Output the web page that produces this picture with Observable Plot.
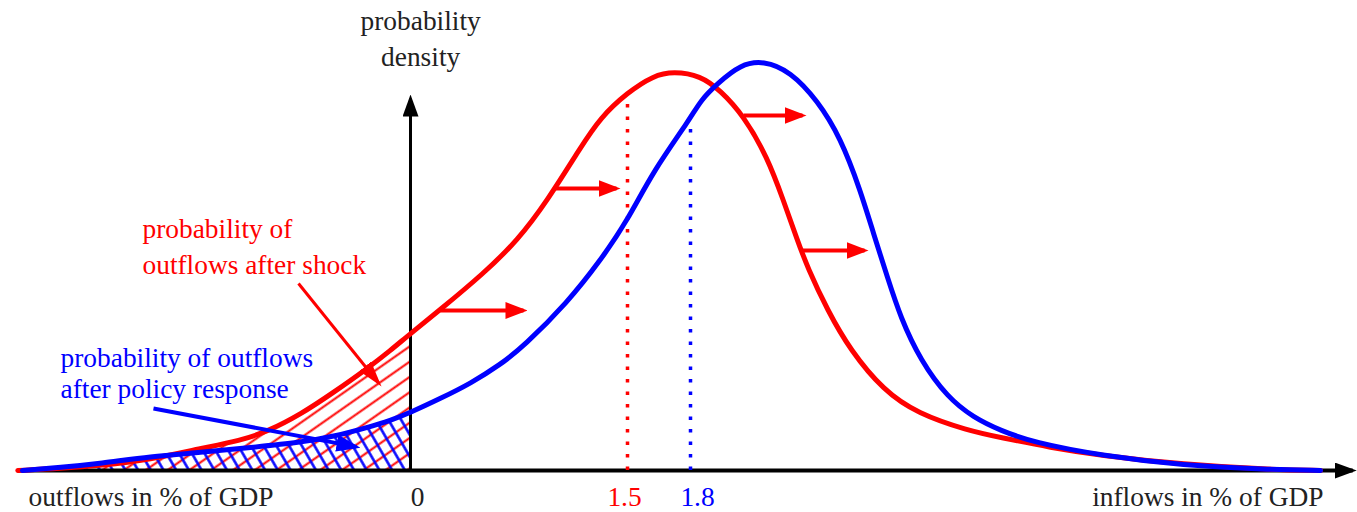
<!DOCTYPE html>
<html><head><meta charset="utf-8">
<script src="https://cdn.jsdelivr.net/npm/d3@7"></script>
<script src="https://cdn.jsdelivr.net/npm/@observablehq/plot@0.6"></script>
<style>body{margin:0;background:#fff} svg{display:block}</style>
</head><body><div id="chart"></div>
<script>
// Red: distribution after shock (schematic x units, density units)
const redX = [-2.7, -2.406, -2.131, -1.788, -1.444, -1.169, -0.983, -0.756, -0.529, -0.296, -0.1375, 0,
  0.207, 0.505, 0.74, 0.947, 1.175, 1.313, 1.5, 1.624, 1.719, 1.871, 2.014, 2.179, 2.35, 2.464, 2.564, 2.636,
  2.779, 2.943, 3.179, 3.421, 3.779, 4.014, 4.371, 4.729, 5.321, 5.921, 6.3];
const redDensity = [0, 0.005, 0.0125, 0.0275, 0.055, 0.075, 0.0975, 0.14, 0.195, 0.255, 0.3, 0.3425,
  0.4025, 0.4925, 0.575, 0.675, 0.8075, 0.8825, 0.945, 0.9875, 0.9975, 0.9875, 0.95, 0.8875, 0.7825, 0.675, 0.575, 0.5075,
  0.4, 0.3, 0.2, 0.1425, 0.1, 0.0825, 0.0575, 0.0375, 0.015, 0.0025, 0];
// Blue: distribution after policy response
const blueX = [-2.668, -2.406, -2.131, -1.788, -1.444, -1.1, -0.756, -0.529, -0.296, -0.1375, 0,
  0.207, 0.415, 0.622, 0.781, 1.085, 1.313, 1.5, 1.624, 1.8, 1.871, 1.993, 2.157, 2.321, 2.514, 2.707, 2.871,
  3.014, 3.107, 3.207, 3.3, 3.443, 3.636, 3.821, 4.014, 4.25, 4.729, 5.321, 5.921, 6.3];
const blueDensity = [0, 0.0075, 0.0175, 0.035, 0.045, 0.0575, 0.07, 0.085, 0.1075, 0.125, 0.145,
  0.18, 0.2175, 0.265, 0.31, 0.42, 0.525, 0.625, 0.75, 0.88, 0.925, 0.9675, 1.015, 1.025, 0.9975, 0.925, 0.8325,
  0.7, 0.5925, 0.4825, 0.3825, 0.275, 0.1825, 0.1325, 0.1, 0.07, 0.0375, 0.0125, 0.0025, 0];

const meanValues = [1.5, 1.8];
const meanTops = [0.925, 0.8575];
const tickValues = [0, 1.5, 1.8];
const tickLabels = ["0", "1.5", "1.8"];
const shiftFromX = [0.207, 1.002, 2.179, 2.586];
const shiftToX = [0.781, 1.424, 2.6, 3.043];
const shiftY = [0.4, 0.705, 0.8875, 0.55];
const axisTitles = ["outflows in % of GDP", "inflows in % of GDP"];
const yTitle = "probability\ndensity";
const shockLabel = "probability of\noutflows after shock";
const policyLabel = "probability of outflows\nafter policy response";

const red = d3.range(redX.length).map(i => ({x: redX[i], y: redDensity[i]}));
const blue = d3.range(blueX.length).map(i => ({x: blueX[i], y: blueDensity[i]}));
const shifts = shiftY.map((y, i) => ({x1: shiftFromX[i], x2: shiftToX[i], y}));
const ticks = tickValues.map((v, i) => ({x: v, label: tickLabels[i]}));
const means = meanValues.map((v, i) => ({x: v, top: meanTops[i]}));

const FONT = "Liberation Serif, Times New Roman, serif";
const FS = 27.4;
const CURVE = "basis";

const svg = Plot.plot({
  width: 1357, height: 512, margin: 0,
  x: {type: "linear", domain: [-2.75, 0, 1.5, 1.8, 6.564], range: [10, 410, 627, 690, 1357], axis: null},
  y: {domain: [0, 1.1], range: [470, 30], axis: null},
  marks: [
    Plot.areaY(red.filter(d => d.x <= 0), {x: "x", y: "y", curve: CURVE, fill: "url(#hatchRed)"}),
    Plot.areaY(blue.filter(d => d.x <= 0), {x: "x", y: "y", curve: CURVE, fill: "url(#hatchBlue)", stroke: "blue", strokeWidth: 2, strokeLinejoin: "round"}),
    // axes (links 0 and 1)
    Plot.link([{x1: -2.7, x2: 6.53, y: 0}], {x1: "x1", x2: "x2", y1: "y", y2: "y", stroke: "black", strokeWidth: 4}),
    Plot.link([{x: 0, y1: 0, y2: 0.93}], {x1: "x", x2: "x", y1: "y1", y2: "y2", stroke: "black", strokeWidth: 3}),
    // mean lines
    Plot.ruleX(means, {x: "x", y1: 0, y2: "top", stroke: (d, i) => i === 0 ? "red" : "blue", strokeWidth: 3.5, strokeDasharray: "3.5,9"}),
    // curves
    Plot.line(red, {x: "x", y: "y", curve: CURVE, stroke: "red", strokeWidth: 5}),
    Plot.line(blue, {x: "x", y: "y", curve: CURVE, stroke: "blue", strokeWidth: 5}),
    // shift arrows (link 2), pointers (links 3, 4)
    Plot.link(shifts, {x1: "x1", x2: "x2", y1: "y", y2: "y", stroke: "red", strokeWidth: 4}),
    Plot.link([{x1: -0.77, y1: 0.4675, x2: -0.2166, y2: 0.2175}], {x1: "x1", x2: "x2", y1: "y1", y2: "y2", stroke: "red", strokeWidth: 3}),
    Plot.link([{x1: -1.767, y1: 0.155, x2: -0.371, y2: 0.059}], {x1: "x1", x2: "x2", y1: "y1", y2: "y2", stroke: "blue", strokeWidth: 4}),
    // texts
    Plot.text([yTitle], {x: 0.07, y: 1.0125, text: d => d, fontFamily: FONT, fontSize: FS, lineHeight: 1.31, lineAnchor: "bottom", textAnchor: "middle", fill: "#222"}),
    Plot.text([shockLabel], {x: -1.8425, y: 0.4925, text: d => d, fontFamily: FONT, fontSize: FS, lineHeight: 1.28, lineAnchor: "bottom", textAnchor: "start", fill: "red"}),
    Plot.text([policyLabel], {x: -2.406, y: 0.1825, text: d => d, fontFamily: FONT, fontSize: FS, lineHeight: 1.1, lineAnchor: "bottom", textAnchor: "start", fill: "blue"}),
    Plot.text(ticks, {x: "x", y: -0.0875, text: "label", fontFamily: FONT, fontSize: FS, lineAnchor: "bottom", textAnchor: "middle",
      fill: d => d.label === "1.5" ? "red" : d.label === "1.8" ? "blue" : "#222"}),
    Plot.text([axisTitles[0]], {x: -2.626, y: -0.0875, text: d => d, fontFamily: FONT, fontSize: FS, lineAnchor: "bottom", textAnchor: "start", fill: "#222"}),
    Plot.text([axisTitles[1]], {x: 6.321, y: -0.0875, text: d => d, fontFamily: FONT, fontSize: FS, lineAnchor: "bottom", textAnchor: "end", fill: "#222"})
  ]
});

svg.insertAdjacentHTML("afterbegin", `<defs>
  <pattern id="hatchRed" patternUnits="userSpaceOnUse" width="12.5" height="12.5" patternTransform="rotate(-35)">
    <line x1="-2" y1="6.25" x2="14.5" y2="6.25" stroke="red" stroke-width="2"/></pattern>
  <pattern id="hatchBlue" patternUnits="userSpaceOnUse" width="11" height="11" patternTransform="rotate(60)">
    <line x1="-2" y1="5.5" x2="13" y2="5.5" stroke="blue" stroke-width="2.5"/></pattern>
  <marker id="headAxis" markerUnits="userSpaceOnUse" viewBox="0 0 22 16" markerWidth="22" markerHeight="16" refX="18" refY="8" orient="auto"><path d="M0,0L22,8L0,16Z" fill="black"/></marker>
  <marker id="headShift" markerUnits="userSpaceOnUse" viewBox="0 0 22 17" markerWidth="22" markerHeight="17" refX="18" refY="8.5" orient="auto"><path d="M0,0L22,8.5L0,17Z" fill="red"/></marker>
  <marker id="headShock" markerUnits="userSpaceOnUse" viewBox="0 0 26 15" markerWidth="26" markerHeight="15" refX="22" refY="7.5" orient="auto"><path d="M0,0L26,7.5L0,15Z" fill="red"/></marker>
  <marker id="headPolicy" markerUnits="userSpaceOnUse" viewBox="0 0 24 17" markerWidth="24" markerHeight="17" refX="20" refY="8.5" orient="auto"><path d="M0,0L24,8.5L0,17Z" fill="blue"/></marker>
</defs>`);
const linkGroups = svg.querySelectorAll('g[aria-label="link"]');
const heads = ["headAxis", "headAxis", "headShift", "headShock", "headPolicy"];
linkGroups.forEach((g, i) => g.querySelectorAll("path, line").forEach(p => p.setAttribute("marker-end", `url(#${heads[i]})`)));
svg.querySelectorAll('text').forEach(t => {
  if (t.textContent === "0" || t.textContent === "1.8") t.setAttribute("dx", "7");
  if (t.textContent === "1.5") t.setAttribute("dx", "-3");
});
document.getElementById("chart").appendChild(svg);
</script>
</body></html>
